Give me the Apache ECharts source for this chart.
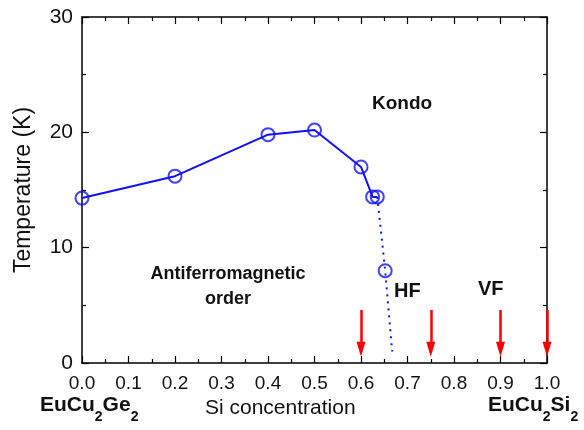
<!DOCTYPE html>
<html><head><meta charset="utf-8">
<script src="https://cdn.jsdelivr.net/npm/echarts@6/dist/echarts.min.js"></script>
<style>html,body{margin:0;padding:0;background:#fff}#c{width:584px;height:430px}</style>
</head><body><div id="c"></div>
<script>
// Data
var circleX = [0.0, 0.2, 0.4, 0.5, 0.6, 0.625, 0.635, 0.652];
var circleT = [14.3, 16.2, 19.8, 20.2, 17.0, 14.4, 14.4, 8.0];
var solidX = [0.0, 0.2, 0.4, 0.5, 0.6, 0.625, 0.635];
var solidT = [14.3, 16.2, 19.8, 20.2, 17.0, 14.4, 14.4];
var dottedX = [0.635, 0.652, 0.667];
var dottedT = [14.4, 8.0, 1.0];
var arrowX = [0.6, 0.75, 0.9, 1.0];
var arrowTop = 4.6;
var arrowBottom = 1.2;

function zip(a, b) { return a.map(function (v, i) { return [v, b[i]]; }); }

var FONT = '"Liberation Sans", Arial, sans-serif';
var axisLineCfg = { show: true, onZero: false, lineStyle: { color: '#000', width: 1.5 } };
var tickCfg = { show: true, inside: true, length: 7, lineStyle: { color: '#000', width: 1.2 } };
var minorCfg = { show: true, splitNumber: 2, length: 4, lineStyle: { color: '#000', width: 1.2 } };
var chart = echarts.init(document.getElementById('c'));
var blue = '#1010ff';

var option = {
  animation: false,
  grid: { left: 82, right: 37, top: 17, bottom: 67, containLabel: false },
  xAxis: [{
    type: 'value', min: 0, max: 1, interval: 0.1, position: 'bottom',
    axisLine: axisLineCfg, axisTick: tickCfg, minorTick: minorCfg,
    splitLine: { show: false },
    axisLabel: { fontFamily: FONT, fontSize: 19, color: '#111', margin: 11,
      formatter: function (v) { return v.toFixed(1); } }
  }, {
    type: 'value', min: 0, max: 1, interval: 0.1, position: 'top',
    axisLine: axisLineCfg, axisTick: tickCfg, minorTick: minorCfg,
    splitLine: { show: false }, axisLabel: { show: false }
  }],
  yAxis: [{
    type: 'value', min: 0, max: 30, interval: 10, position: 'left',
    name: 'Temperature (K)', nameLocation: 'middle', nameGap: 47,
    nameTextStyle: { fontFamily: FONT, fontSize: 23, color: '#111' },
    axisLine: axisLineCfg, axisTick: tickCfg, minorTick: minorCfg,
    splitLine: { show: false },
    axisLabel: { fontFamily: FONT, fontSize: 21, color: '#111', margin: 9 }
  }, {
    type: 'value', min: 0, max: 30, interval: 10, position: 'right',
    axisLine: axisLineCfg, axisTick: tickCfg, minorTick: minorCfg,
    splitLine: { show: false }, axisLabel: { show: false }
  }],
  series: [{
    type: 'line', data: zip(solidX, solidT), showSymbol: false, symbol: 'none',
    lineStyle: { color: blue, width: 2 }, z: 3
  }, {
    type: 'line', data: zip(dottedX, dottedT), showSymbol: false, symbol: 'none',
    lineStyle: { color: blue, width: 2, type: [2, 5] }, z: 3
  }, {
    type: 'scatter', data: zip(circleX, circleT), symbol: 'circle', symbolSize: 13,
    itemStyle: { color: 'rgba(0,0,0,0)', borderColor: blue, borderWidth: 2 }, z: 4
  }, {
    type: 'line', data: [], silent: true,
    markLine: {
      silent: true, animation: false,
      symbol: ['none', 'triangle'], symbolSize: [9, 15],
      label: { show: false },
      lineStyle: { color: '#ff0000', width: 2.5, type: 'solid' },
      data: arrowX.map(function (x) {
        return [{ coord: [x, arrowTop] }, { coord: [x, arrowBottom] }];
      })
    }
  }],
  graphic: [
    { type: 'text', left: 372, top: 94, style: { text: 'Kondo', font: 'bold 19px ' + FONT, fill: '#111' } },
    { type: 'text', x: 228, y: 262, style: { text: 'Antiferromagnetic\norder', font: 'bold 18px ' + FONT, fill: '#111', align: 'center', lineHeight: 25 } },
    { type: 'text', left: 394, top: 281, style: { text: 'HF', font: 'bold 20px ' + FONT, fill: '#111' } },
    { type: 'text', left: 478, top: 279, style: { text: 'VF', font: 'bold 20px ' + FONT, fill: '#111' } },
    { type: 'text', left: 40, top: 395, style: {
      text: '{b|EuCu}{s|2}{b|Ge}{s|2}',
      rich: { b: { font: 'bold 21px ' + FONT, fill: '#111', verticalAlign: 'top', lineHeight: 28 },
              s: { font: 'bold 14px ' + FONT, fill: '#111', padding: [15, 0, 0, 0], verticalAlign: 'top', lineHeight: 28 } } } },
    { type: 'text', left: 205, top: 398, style: { text: 'Si concentration', font: '21px ' + FONT, fill: '#111' } },
    { type: 'text', left: 488, top: 395, style: {
      text: '{b|EuCu}{s|2}{b|Si}{s|2}',
      rich: { b: { font: 'bold 21px ' + FONT, fill: '#111', verticalAlign: 'top', lineHeight: 28 },
              s: { font: 'bold 14px ' + FONT, fill: '#111', padding: [15, 0, 0, 0], verticalAlign: 'top', lineHeight: 28 } } } }
  ]
};
chart.setOption(option);
</script></body></html>
